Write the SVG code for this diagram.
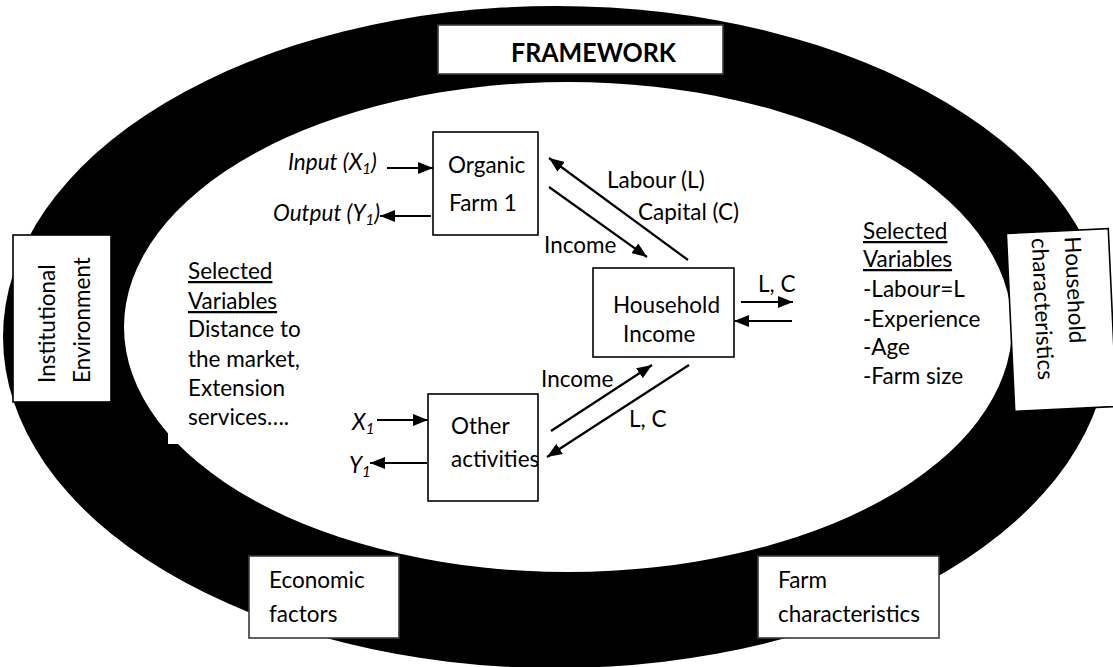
<svg xmlns="http://www.w3.org/2000/svg" width="1113" height="667" viewBox="0 0 1113 667">
<style>
text{font-family:Lato,"Open Sans","Liberation Sans",sans-serif;font-size:22.5px;fill:#000}
.it{font-style:italic}
.ul{text-decoration:underline}
.box{fill:#fff;stroke:#000;stroke-width:1.6}
.gbox{fill:#fff;stroke:#3a3a3a;stroke-width:1.6}
.con{stroke:#000;stroke-width:2.2;fill:none;marker-end:url(#ah)}
</style>
<defs>
<marker id="ah" viewBox="0 0 15 12" refX="15" refY="6" markerWidth="15" markerHeight="12" markerUnits="userSpaceOnUse" orient="auto">
<path d="M0,0 L15,6 L0,12 z" fill="#000"/>
</marker>
</defs>
<rect width="1113" height="667" fill="#fff"/>
<g id="ring">
<ellipse cx="556" cy="337" rx="553" ry="331" fill="#000"/>
<ellipse cx="568" cy="327" rx="444" ry="245" fill="#fff"/>
</g>
<rect x="168" y="262" width="140" height="182" fill="#fff"/>

<g id="framework">
<rect x="438" y="25" width="285" height="49" class="gbox"/>
<text x="511" y="62" font-weight="bold" style="font-size:26px" textLength="165" lengthAdjust="spacingAndGlyphs">FRAMEWORK</text>
</g>

<g id="institutional">
<rect x="13" y="235" width="98" height="167" class="box"/>
<text transform="translate(55,383) rotate(-90)">Institutional</text>
<text transform="translate(90,383) rotate(-90)">Environment</text>
</g>

<g id="household-char" transform="translate(1061.5,320) rotate(-2.7)">
<rect x="-51" y="-89" width="102" height="178" class="box"/>
<text transform="translate(7,-83) rotate(90)">Household</text>
<text transform="translate(-26,-83) rotate(90)">characteristics</text>
</g>

<g id="economic">
<rect x="249" y="556" width="150" height="82" class="gbox"/>
<text x="269" y="588">Economic</text>
<text x="269" y="622">factors</text>
</g>

<g id="farm-char">
<rect x="758" y="556" width="181" height="82" class="gbox"/>
<text x="778" y="588">Farm</text>
<text x="778" y="622">characteristics</text>
</g>

<g id="organic-farm">
<rect x="433" y="132" width="105" height="103" class="box"/>
<text x="448" y="173">Organic</text>
<text x="449" y="211">Farm 1</text>
</g>

<g id="household-income">
<rect x="593" y="268" width="141" height="89" class="box"/>
<text x="613" y="313">Household</text>
<text x="623" y="342">Income</text>
</g>

<g id="other-activities">
<rect x="428" y="394" width="110" height="107" class="box"/>
<text x="451" y="434">Other</text>
<text x="451" y="467">activities</text>
</g>

<g id="vars-left">
<text x="188" y="279" class="ul">Selected</text>
<text x="188" y="309" class="ul">Variables</text>
<text x="188" y="337">Distance to</text>
<text x="188" y="367">the market,</text>
<text x="188" y="396">Extension</text>
<text x="188" y="425">services….</text>
</g>

<g id="vars-right">
<text x="863" y="239" class="ul">Selected</text>
<text x="863" y="267" class="ul">Variables</text>
<text x="863" y="297">-Labour=L</text>
<text x="863" y="327">-Experience</text>
<text x="863" y="355">-Age</text>
<text x="863" y="384">-Farm size</text>
</g>

<g id="connectors">
<line x1="387" y1="168" x2="433" y2="168" class="con"/>
<line x1="431" y1="216" x2="380" y2="216" class="con"/>
<line x1="688" y1="260" x2="549" y2="158" class="con"/>
<line x1="549" y1="187" x2="647" y2="257" class="con"/>
<line x1="741" y1="302" x2="793" y2="302" class="con"/>
<line x1="792" y1="321" x2="734" y2="321" class="con"/>
<line x1="551" y1="431" x2="652" y2="365" class="con"/>
<line x1="689" y1="365" x2="547" y2="457" class="con"/>
<line x1="377" y1="420" x2="428" y2="420" class="con"/>
<line x1="427" y1="463" x2="370" y2="463" class="con"/>
<text x="288" y="170" class="it">Input (X<tspan style="font-size:15px" dy="4">1</tspan><tspan dy="-4">)</tspan></text>
<text x="273" y="221" class="it">Output (Y<tspan style="font-size:15px" dy="4">1</tspan><tspan dy="-4">)</tspan></text>
<text x="607" y="188">Labour (L)</text>
<text x="638" y="220">Capital (C)</text>
<text x="544" y="253">Income</text>
<text x="758" y="292">L, C</text>
<text x="541" y="387">Income</text>
<text x="629" y="427">L, C</text>
<text x="352" y="430" class="it">X<tspan style="font-size:15px" dy="4">1</tspan></text>
<text x="349" y="473" class="it">Y<tspan style="font-size:15px" dy="4">1</tspan></text>
</g>
</svg>
